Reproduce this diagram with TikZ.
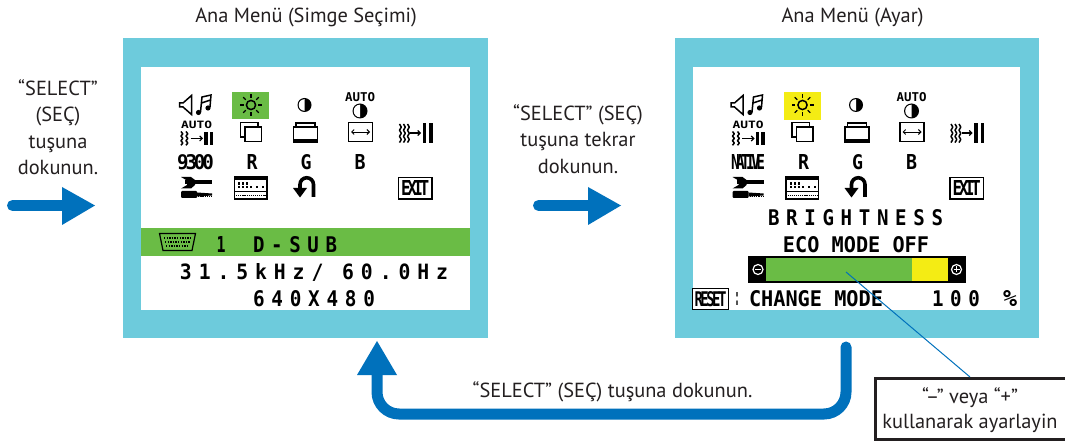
\documentclass[tikz,border=0pt]{standalone}
\usepackage{fontspec}
\usepackage{graphicx}
\usetikzlibrary{arrows.meta}
\setmainfont{PT Sans}
\newfontfamily\osdwf[LetterSpace=35]{DejaVu Sans Mono}
\newfontfamily\osdnf{DejaVu Sans Mono}
\newcommand{\osdw}{\osdwf\bfseries}
\newcommand{\osdn}{\osdnf\bfseries}
\definecolor{framec}{HTML}{6DCBDC}
\definecolor{osdgreen}{HTML}{6ABC45}
\definecolor{osdyellow}{HTML}{F4EC14}
\definecolor{arrowblue}{HTML}{0071BC}
\definecolor{ink}{HTML}{231F20}
\newcommand{\osdtext}[4]{\resizebox{#2pt}{#3pt}{#1{}#4}}
\newcommand{\wavycol}[3]{% x, top y (zigzag); third arg = step
  \draw[icon,line width=1.5pt,line join=round] (#1,#2) -- ++(1.8,#3) -- ++(-1.8,#3) -- ++(1.8,#3) -- ++(-1.8,#3) -- ++(1.8,#3) -- ++(-1.8,#3);}
\newcommand{\contrasticon}[3]{%
  \fill[black] (#1,#2) circle (#3);
  \fill[white] (#1,#2+#3-1.2) arc (90:270:#3-1.2) -- cycle;}
\newcommand{\osdicons}[2]{%
  % speaker and note
  \draw[icon] (179.5,103) -- (179.5,107) -- (183,107) -- (191.5,114.5) -- (191.5,95.5) -- (183,103) -- cycle;
  \draw[icon] (200.5,112) -- (202,97) -- (211,95) -- (210,107);
  \draw[icon] (201.5,103) -- (210.5,100);
  \fill (198.5,112.5) circle (2.6);
  \fill (208,108) circle (2.6);
  % sun
  \draw[icon] (251,105) circle (4.6);
  \foreach \a in {0,45,...,315}{\draw[icon,line width=1.2pt] (251,105)++(\a:7.4) -- ++(\a:3.6);}
  % contrast
  \contrasticon{304.5}{105}{7}
  % auto contrast
  \node (#2a) at (360,97.5) {\osdtext{\osdn}{30}{9}{AUTO}};
  \contrasticon{360}{111}{7.5}
  % row 2: auto picture
  \node (#2b) at (196.5,124.5) {\osdtext{\osdn}{31}{7.5}{AUTO}};
  \wavycol{181}{131.5}{2.3}
  \wavycol{186}{131.5}{2.3}
  \draw[icon,line width=1.1pt,-{Straight Barb[length=2.5pt,width=5pt]}] (190.5,138.5) -- (203,138.5);
  \fill (204,132) rectangle (207.5,145.5);
  \fill (209.5,132) rectangle (213,145.5);
  % copy rects
  \draw[icon] (240.5,122.5) rectangle (258,137);
  \draw[icon,fill=white] (245,127) rectangle (261.5,141.5);
  \draw[icon] (296,127) -- (296,123) -- (315,123) -- (315,127);
  \draw[icon] (293.5,127) rectangle (317.5,142);
  \fill (293.5,139.5) rectangle (317.5,142);
  % H size
  \draw[icon] (348.5,122.5) rectangle (372.5,141.5);
  \draw[icon,line width=0.9pt,{Straight Barb[length=2.5pt,width=5pt]}-{Straight Barb[length=2.5pt,width=5pt]}] (351,132) -- (370,132);
  % wave to bars
  \wavycol{399.5}{124}{3.1}
  \wavycol{403.5}{124}{3.1}
  \wavycol{407.5}{124}{3.1}
  \draw[icon,line width=1.1pt,-{Straight Barb[length=2.5pt,width=5pt]}] (410,133) -- (421,133);
  \fill (422.5,123) rectangle (426,143);
  \fill (429,123) rectangle (432.5,143);
  % row 3
  #1
  \node (#2r) at (252,162.5) {\osdtext{\osdn}{11}{15}{R}};
  \node (#2g) at (306,162.5) {\osdtext{\osdn}{11}{15}{G}};
  \node (#2h) at (360,162.5) {\osdtext{\osdn}{11}{15}{B}};
  % wrench
  \fill (185,180.5) rectangle (212,184.5);
  \fill (181,177) -- (191,177) -- (195,180) -- (195,185) -- (191,188.5) -- (181,188.5) -- (187,185) -- (187,180.5) -- cycle;
  \fill[rounded corners=1pt] (181,191) rectangle (197,198);
  \fill (197,192.5) -- (212,193.5) -- (212,195.5) -- (197,196.5) -- cycle;
  \draw[icon,line width=1pt,dash pattern=on 1.3pt off 0.9pt] (198,196.5) -- (212,196.5);
  % keyboard
  \draw[icon] (234.5,177) rectangle (267,199);
  \fill (234.5,176.5) rectangle (267,180);
  \foreach \kx in {238,242,246,250,256,262}{\fill (\kx,186) rectangle ++(2.2,2.2);}
  \foreach \kx in {238,242,246}{\fill (\kx,182.5) rectangle ++(2.2,2.2);}
  \draw[icon] (234.5,191.5) -- (267,191.5);
  \draw[icon,line width=1pt,dash pattern=on 1.2pt off 0.9pt] (236,195.5) -- (266,195.5);
  % u-turn
  \draw[line width=3.6pt] (313.5,197) -- (313.5,184.5) arc (0:-180:6.75) -- (300,189);
  \fill (293,188) -- (307,188) -- (300,197.5) -- cycle;
  % exit
  \draw[icon] (398.5,177.5) rectangle (432,199);
  \node (#2x) at (415.2,188.2) {\osdtext{\osdn}{28}{15}{\addfontfeature{LetterSpace=-22}EXIT}};
}
\tikzset{
  icon/.style={draw=black,line width=1.5pt,line cap=butt,line join=miter},
  frameshape/.style={fill=framec,draw=none,inner sep=0pt,rectangle},
  screen/.style={fill=white,draw=none},
  bigcaption/.style={text=ink,font=\fontsize{20.4}{26.5}\selectfont,align=center,inner sep=0pt},
  bigarrow/.style={draw=arrowblue,line width=11pt,line cap=round},
  leader/.style={draw=arrowblue,line width=1pt},
  osd/.style={inner sep=0pt,outer sep=0pt,text=black},
  every node/.append style={inner sep=0pt,outer sep=0pt}
}
\begin{document}
\begin{tikzpicture}[x=1pt,y=-1pt]
\useasboundingbox (0,0) rectangle (1065,443);
\fill[white] (0,0) rectangle (1065,443);
% frames
\node[frameshape,minimum width=365pt,minimum height=300pt] (frameA) at (305.5,188) {};
\node[frameshape,minimum width=364pt,minimum height=300pt] (frameB) at (857,188) {};
\fill[screen] (141,67) rectangle (470,310);
\fill[screen] (693,67) rectangle (1020,310);
% titles
\node[bigcaption] (titleA) at (306,17) {Ana Menü (Simge Seçimi)};
\node[bigcaption] (titleB) at (852.5,17) {Ana Menü (Ayar)};
% left frame OSD
\fill[osdgreen] (232,92) rectangle (269,119);
\begin{scope}
\osdicons{\node (Ac) at (195.5,162.5) {\osdtext{\osdn}{37}{15}{\addfontfeature{LetterSpace=-16}9300}};}{A}
\end{scope}
\fill[osdgreen] (141,228) rectangle (470,256);
% VGA icon
\draw[icon,line width=1.2pt] (159.5,233.5) -- (195.5,233.5) -- (192,250.5) -- (163,250.5) -- cycle;
\draw[icon,line width=1.2pt,dash pattern=on 1.4pt off 1.2pt] (164,238) -- (191,238);
\draw[icon,line width=1.2pt,dash pattern=on 1.4pt off 1.2pt] (165,242) -- (190,242);
\draw[icon,line width=1.2pt,dash pattern=on 1.4pt off 1.2pt] (166,246) -- (189,246);
\node[osd] (inputno) at (221,244.5) {\osdtext{\osdn}{9}{16}{1}};
\node[osd] (dsub) at (295,244.5) {\osdtext{\osdw}{84}{16}{D-SUB}};
\node[osd] (freq) at (314,272) {\osdtext{\osdw}{268}{16}{31.5kHz/ 60.0Hz}};
\node[osd] (res) at (314,298.5) {\osdtext{\osdw}{122}{16}{640X480}};
% right frame OSD
\fill[osdyellow] (784,92) rectangle (820.5,120);
\begin{scope}[shift={(551.5,0)}]
\osdicons{\node (Bc) at (196.5,162.5) {\osdtext{\osdn}{34}{15}{\addfontfeature{LetterSpace=-25}NATIVE}};}{B}
\end{scope}
\node[osd] (bright) at (855.5,218) {\osdtext{\osdw}{175}{16}{BRIGHTNESS}};
\node[osd] (eco) at (856,245) {\osdtext{\osdn}{146}{16}{ECO MODE OFF}};
\fill[black] (748,256) rectangle (966,283);
\fill[osdgreen] (766,258) rectangle (912,281);
\fill[osdyellow] (912,258) rectangle (948,281);
\draw[white,line width=1.2pt] (758,269.5) circle (5);
\draw[white,line width=1.2pt] (755,269.5) -- (761,269.5);
\draw[white,line width=1.2pt] (956.5,269.5) circle (5);
\draw[white,line width=1.2pt] (953.5,269.5) -- (959.5,269.5) (956.5,266.5) -- (956.5,272.5);
\draw[icon,line width=1pt] (692.5,288.5) rectangle (728.5,309.5);
\node[osd] (resetlbl) at (710.5,299) {\osdtext{\osdn}{32}{15}{\addfontfeature{LetterSpace=-18}RESET}};
\node[osd] (colon) at (737,299) {\osdtext{\osdn}{5}{13}{:}};
\node[osd] (mode) at (816,299) {\osdtext{\osdn}{134}{16}{CHANGE MODE}};
\node[osd] (val) at (956,299) {\osdtext{\osdw}{48}{16}{100}};
\node[osd] (pct) at (1010,299) {\osdtext{\osdn}{14}{16}{\%}};
% left caption and arrow
\node[bigcaption] (capL) at (58,127) {“SELECT”\\(SEÇ)\\tuşuna\\dokunun.};
\coordinate (aS) at (12.5,205.5);
\coordinate (aE) at (95,205.5);
\draw[bigarrow] (aS) -- (64,205.5);
\fill[arrowblue] (aE) -- (62,187) -- (62,225) -- cycle;
% middle caption and arrow
\node[bigcaption] (capM) at (578,139) {“SELECT” (SEÇ)\\tuşuna tekrar\\dokunun.};
\coordinate (bS) at (538.5,205.5);
\coordinate (bE) at (621,205.5);
\draw[bigarrow] (bS) -- (590,205.5);
\fill[arrowblue] (bE) -- (588,187) -- (588,225) -- cycle;
% return arrow
\coordinate (rS) at (846,347);
\coordinate (rE) at (377,341);
\draw[bigarrow,rounded corners=22pt] (rS) -- (846,414) -- (377,414) -- (377,372);
\fill[arrowblue] (rE) -- (397,375) -- (357,375) -- cycle;
\node[bigcaption] (capR) at (612.5,392) {“SELECT” (SEÇ) tuşuna dokunun.};
% callout
\node[draw=ink,line width=3pt,fill=white,minimum width=194pt,minimum height=61pt,anchor=north west] (callout) at (875.5,378.5) {};
\node[bigcaption,anchor=center,font=\fontsize{20.4}{25}\selectfont] (calloutT) at (970,410) {“–” veya “+”\\kullanarak ayarlayin};
\coordinate (lS) at (846,272);
\draw[leader] (lS) -- (970,377);
\end{tikzpicture}
\end{document}
